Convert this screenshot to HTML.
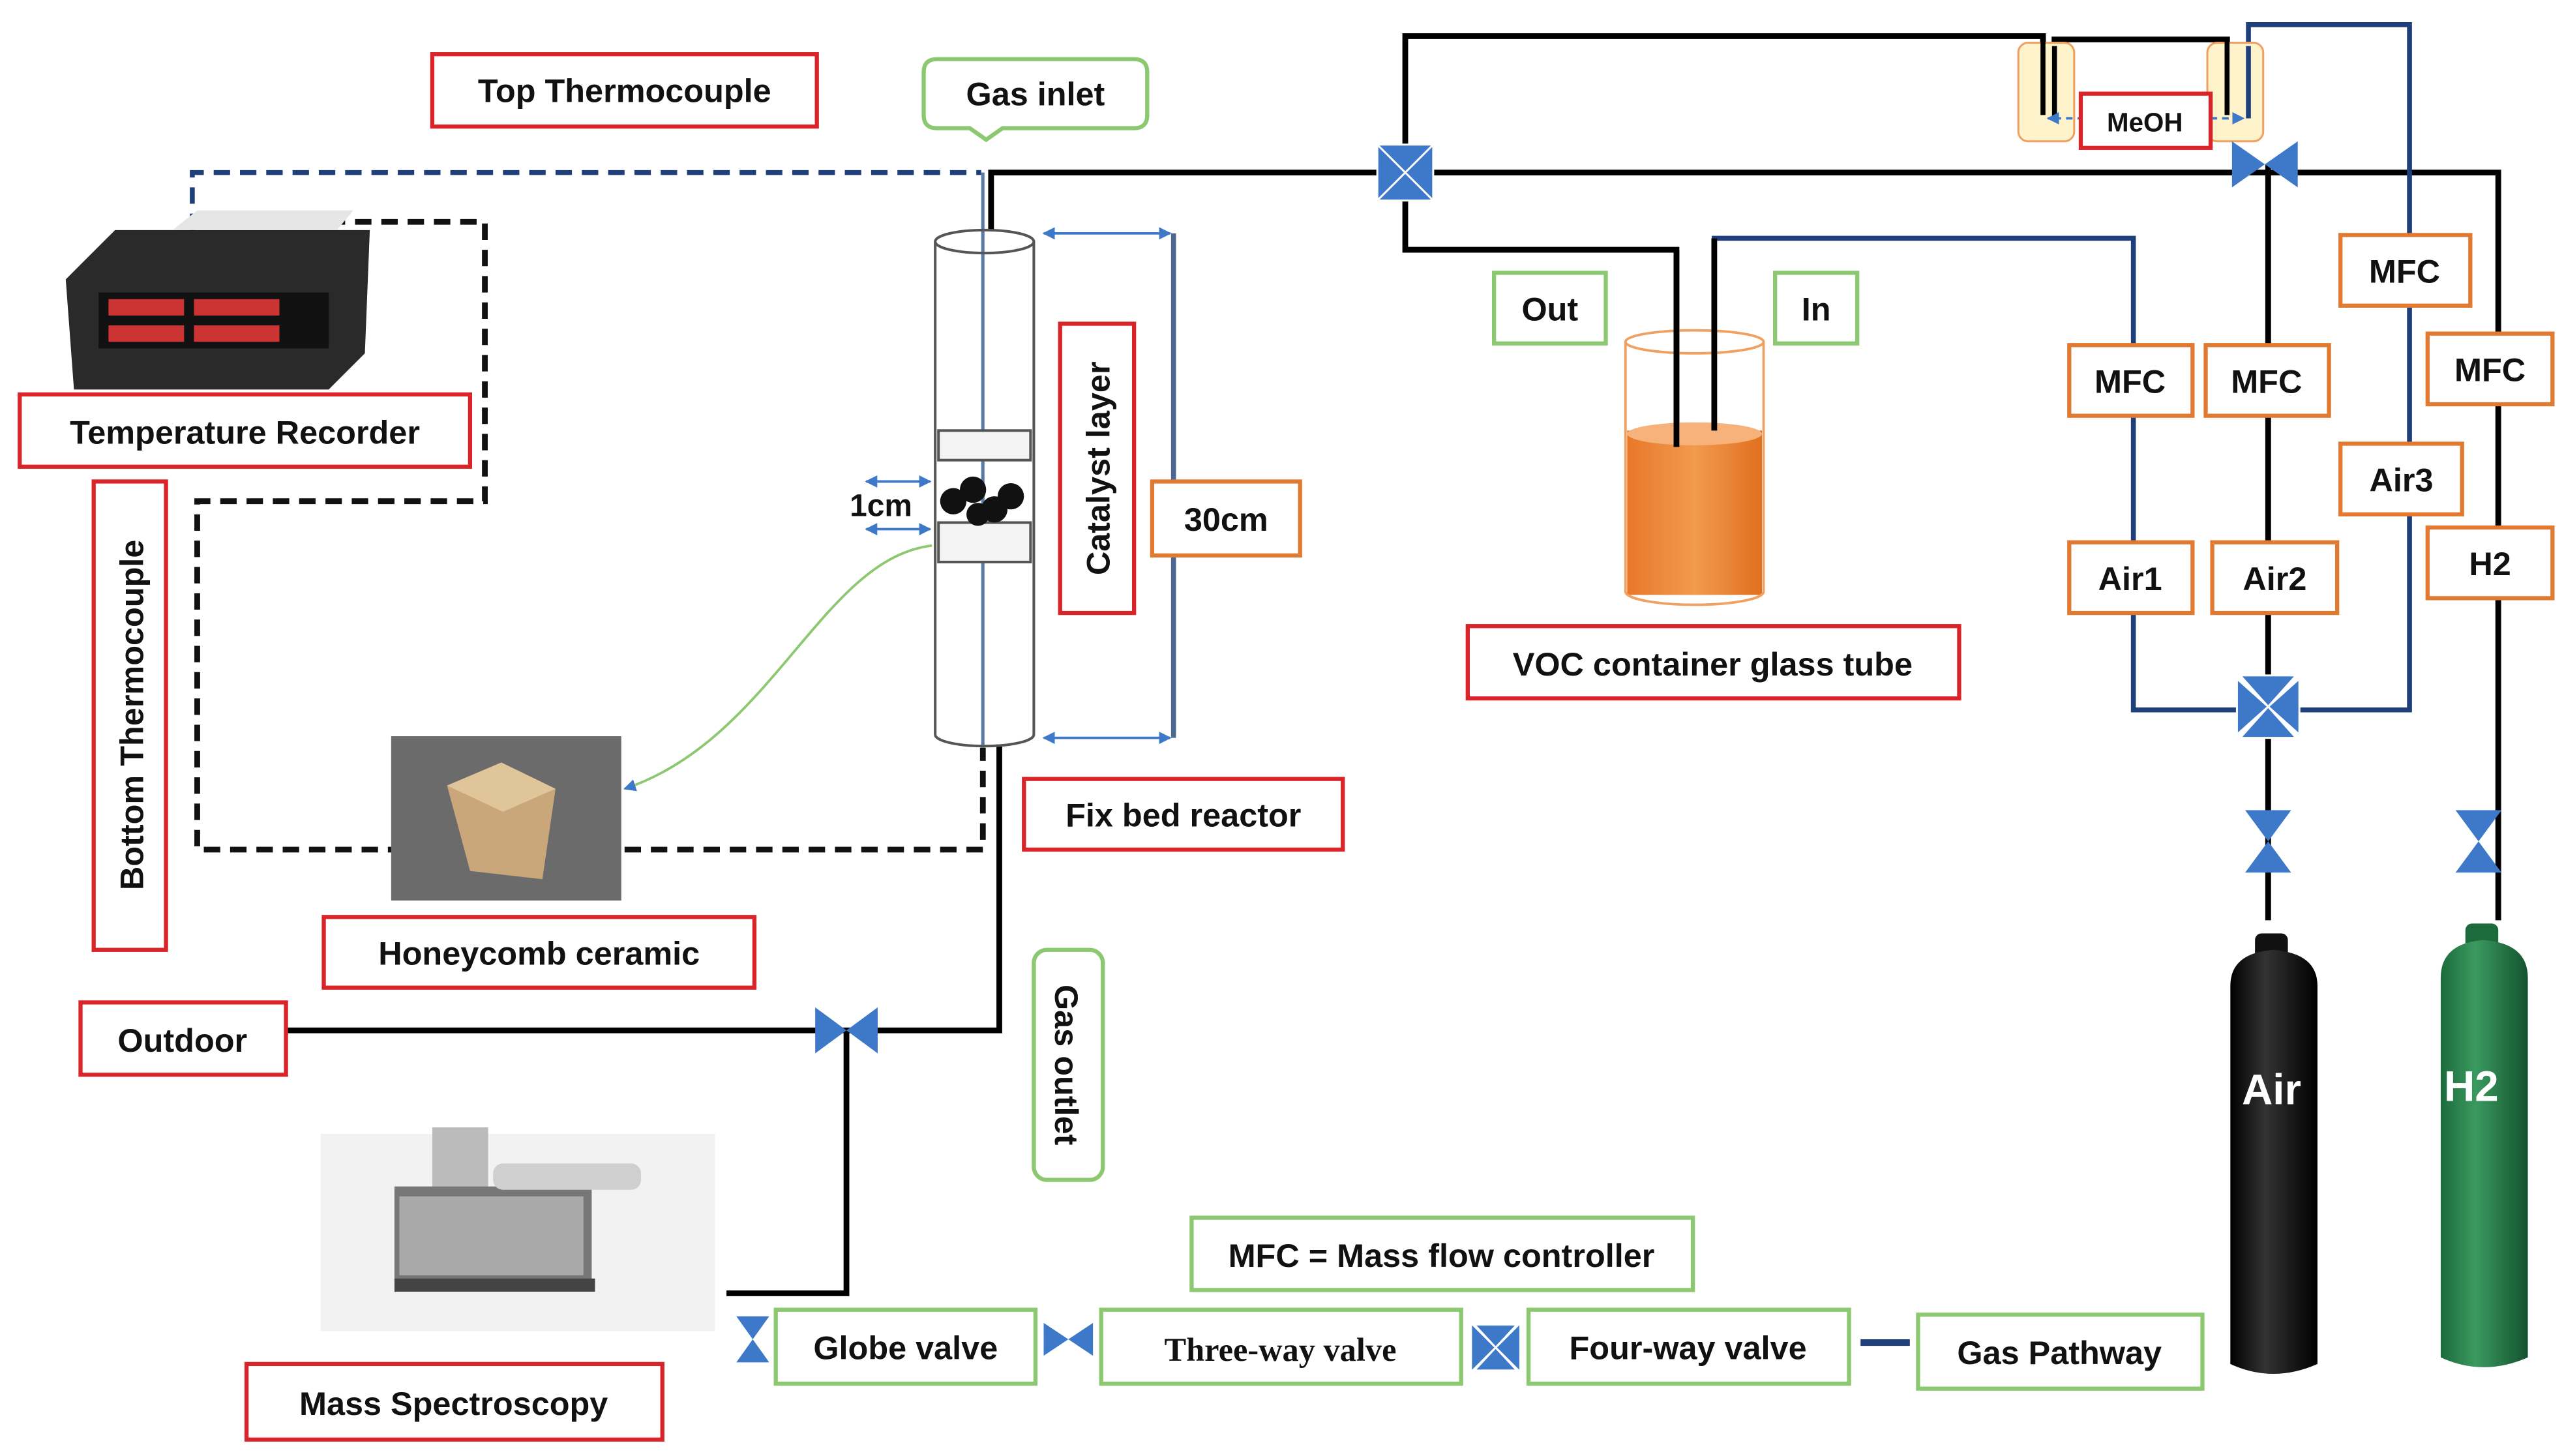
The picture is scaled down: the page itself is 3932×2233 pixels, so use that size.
<!DOCTYPE html>
<html><head><meta charset="utf-8"><style>
html,body{margin:0;padding:0;background:#fff;}
svg{display:block;}
text{font-family:"Liberation Sans",sans-serif;font-weight:bold;fill:#111;}
</style></head><body>
<svg width="3932" height="2233" viewBox="0 0 1560 886" preserveAspectRatio="none" xmlns="http://www.w3.org/2000/svg">
<defs>
<marker id="ar" viewBox="0 0 10 10" refX="9" refY="5" markerWidth="5" markerHeight="5" orient="auto-start-reverse"><path d="M0,0L10,5L0,10z" fill="#3d78c9"/></marker>
<linearGradient id="h2g" x1="0" x2="1"><stop offset="0" stop-color="#1d6b3c"/><stop offset="0.4" stop-color="#3a9a5e"/><stop offset="1" stop-color="#145230"/></linearGradient>
<linearGradient id="airg" x1="0" x2="1"><stop offset="0" stop-color="#000"/><stop offset="0.4" stop-color="#333"/><stop offset="1" stop-color="#000"/></linearGradient>
<linearGradient id="voc" x1="0" x2="1"><stop offset="0" stop-color="#e8782a"/><stop offset="0.5" stop-color="#f29a4f"/><stop offset="1" stop-color="#e0701f"/></linearGradient>
</defs>

<path d="M117,140 V105 H597" fill="none" stroke="#1f3f7a" stroke-width="3" stroke-dasharray="10,6"/>
<path d="M200,135 H295 V305 H120 V517 H598 V455" fill="none" stroke="#111" stroke-width="3.5" stroke-dasharray="10,6"/>

<g fill="none" stroke="#000" stroke-width="3.5">
<path d="M603,140 V105 H1520 V560"/>
<path d="M855,105 V22 H1243 V72"/>
<path d="M1250,72 V24 H1355 V72"/>
<path d="M855,105 V152 H1020 V272"/>
<path d="M1380,100 V560"/>
<path d="M608,453 V627 H174"/>
<path d="M515,627 V787 H442"/>
<path d="M1132,817 H1162" stroke="#1f3f7a" stroke-width="4"/>
</g>
<g fill="none" stroke="#1f3f7a" stroke-width="3">
<path d="M1043,272 V145 H1298 V432 H1466 V15 H1368 V72"/>
<path d="M598,105 V455" stroke="#5a7aa8" stroke-width="2"/>
<path d="M714,142 V449" stroke="#4b6890"/>
</g>

<g fill="none" stroke="#555" stroke-width="1.6">
<path d="M569,147 V447 A30,7 0 0,0 629,447 V147"/>
<ellipse cx="599" cy="147" rx="30" ry="7"/>
<rect x="571" y="262" width="56" height="18" fill="#f4f4f4"/>
<rect x="571" y="318" width="56" height="24" fill="#f4f4f4"/>
</g>
<g fill="#111"><circle cx="580" cy="305" r="8"/><circle cx="592" cy="298" r="8"/><circle cx="605" cy="310" r="8"/><circle cx="615" cy="302" r="8"/><circle cx="595" cy="313" r="7"/></g>
<g stroke="#3d78c9" stroke-width="1.5" marker-start="url(#ar)" marker-end="url(#ar)">
<line x1="635" y1="142" x2="712" y2="142"/><line x1="635" y1="449" x2="712" y2="449"/>
<line x1="527" y1="293" x2="566" y2="293"/><line x1="527" y1="322" x2="566" y2="322"/>
</g>
<text x="517" y="314" font-size="19">1cm</text>
<path d="M567,332 C500,340 470,450 380,480" fill="none" stroke="#8cc870" stroke-width="1.5" marker-end="url(#ar)"/>

<rect x="990" y="262" width="82" height="100" fill="url(#voc)"/>
<ellipse cx="1031" cy="264" rx="41" ry="7" fill="#f6b27a"/>
<path d="M989,208 V360 A42,8 0 0,0 1073,360 V208" fill="none" stroke="#f0a060" stroke-width="1.5"/>
<ellipse cx="1031" cy="208" rx="42" ry="7" fill="none" stroke="#f0a060" stroke-width="1.5"/>
<path d="M1020,152 V272 M1043,145 V262" stroke="#000" stroke-width="3.5"/>

<g fill="#fff3cc" stroke="#f0a060" stroke-width="1.2">
<rect x="1228" y="26" width="34" height="60" rx="6"/>
<rect x="1343" y="26" width="34" height="60" rx="6"/>
</g>
<path d="M1243,22 V70 M1250,28 V72 M1355,24 V70" stroke="#000" stroke-width="3"/>
<path d="M1368,28 V72" stroke="#1f3f7a" stroke-width="3"/>
<g stroke="#3d78c9" stroke-width="1.5" stroke-dasharray="4,3" marker-end="url(#ar)">
<line x1="1268" y1="72" x2="1246" y2="72"/><line x1="1345" y1="72" x2="1365" y2="72"/>
</g>

<g fill="#3d78c9">
<g stroke="#fff" stroke-width="1.2">
<path d="M838,88 L855,105 L838,122Z M872,88 L855,105 L872,122Z M838,88 L855,105 L872,88Z M838,122 L855,105 L872,122Z"/>
<path d="M1361,413 L1380,430 L1361,447Z M1399,413 L1380,430 L1399,447Z M1363,411 L1380,430 L1397,411Z M1363,449 L1380,430 L1397,449Z"/>
<path d="M895,805 L910,820 L895,835Z M925,805 L910,820 L925,835Z M897,806 L910,820 L923,806Z M897,834 L910,820 L923,834Z"/>
</g>
<path d="M1358,86 L1378,100 L1358,114Z M1398,86 L1378,100 L1398,114Z"/>
<path d="M496,613 L515,627 L496,641Z M534,613 L515,627 L534,641Z"/>
<path d="M1366,493 L1380,512 L1394,493Z M1366,531 L1380,512 L1394,531Z"/>
<path d="M1494,493 L1508,512 L1522,493Z M1494,531 L1508,512 L1522,531Z"/>
<path d="M448,801 L458,815 L468,801Z M448,829 L458,815 L468,829Z"/>
<path d="M635,805 L650,815 L635,825Z M665,805 L650,815 L665,825Z"/>
</g>

<rect x="1372" y="568" width="20" height="16" rx="4" fill="#111"/>
<path d="M1357,600 Q1357,580 1383,578 Q1410,580 1410,600 V830 Q1383,842 1357,830Z" fill="url(#airg)"/>
<text x="1364" y="672" font-size="26" style="fill:#fff">Air</text>
<rect x="1500" y="562" width="20" height="16" rx="4" fill="#1d6b3c"/>
<path d="M1485,595 Q1485,574 1511,572 Q1538,574 1538,595 V826 Q1511,838 1485,826Z" fill="url(#h2g)"/>
<text x="1487" y="670" font-size="26" style="fill:#fff">H2</text>

<path d="M40,170 L70,140 H225 L222,215 L200,237 H45Z" fill="#2a2a2a"/>
<path d="M105,140 L120,128 H215 L205,140Z" fill="#e6e6e6"/>
<rect x="60" y="178" width="140" height="34" fill="#111"/>
<g fill="#c33"><rect x="66" y="182" width="46" height="10"/><rect x="118" y="182" width="52" height="10"/><rect x="66" y="198" width="46" height="10"/><rect x="118" y="198" width="52" height="10"/></g>

<rect x="238" y="448" width="140" height="100" fill="#6b6b6b"/>
<path d="M272,478 L305,464 L338,480 L330,535 L286,530Z" fill="#c9a77a"/>
<path d="M272,478 L305,464 L338,480 L306,494Z" fill="#e0c49a"/>

<rect x="195" y="690" width="240" height="120" fill="#f2f2f2"/>
<rect x="263" y="686" width="34" height="40" fill="#bbb"/>
<path d="M240,722 H360 V780 H240Z" fill="#777"/>
<rect x="243" y="728" width="112" height="48" fill="#a9a9a9"/>
<rect x="300" y="708" width="90" height="16" rx="6" fill="#cfcfcf"/>
<rect x="240" y="778" width="122" height="8" fill="#444"/>

<g fill="#fff" stroke-width="2.5">
<rect x="263" y="33" width="234" height="44" stroke="#d9252a"/>
<rect x="12" y="240" width="274" height="44" stroke="#d9252a"/>
<rect x="57" y="293" width="44" height="285" stroke="#d9252a"/>
<rect x="645" y="197" width="45" height="176" stroke="#d9252a"/>
<rect x="623" y="474" width="194" height="43" stroke="#d9252a"/>
<rect x="197" y="558" width="262" height="43" stroke="#d9252a"/>
<rect x="49" y="610" width="125" height="44" stroke="#d9252a"/>
<rect x="150" y="830" width="253" height="46" stroke="#d9252a"/>
<rect x="893" y="381" width="299" height="44" stroke="#d9252a"/>
<rect x="1266" y="57" width="79" height="33" stroke="#d9252a"/>
<g stroke="#e07a30">
<rect x="701" y="293" width="90" height="45"/>
<rect x="1259" y="210" width="75" height="43"/>
<rect x="1342" y="210" width="75" height="43"/>
<rect x="1424" y="143" width="79" height="43"/>
<rect x="1477" y="203" width="76" height="43"/>
<rect x="1259" y="330" width="75" height="43"/>
<rect x="1346" y="330" width="76" height="43"/>
<rect x="1424" y="270" width="74" height="43"/>
<rect x="1477" y="321" width="76" height="43"/>
</g>
<g stroke="#8cc870">
<path d="M570,36 H690 Q698,36 698,44 V70 Q698,78 690,78 H610 L600,85 L590,78 H570 Q562,78 562,70 V44 Q562,36 570,36Z"/>
<rect x="629" y="578" width="42" height="140" rx="8"/>
<rect x="725" y="741" width="305" height="44"/>
<rect x="472" y="797" width="158" height="45"/>
<rect x="670" y="797" width="219" height="45"/>
<rect x="930" y="797" width="195" height="45"/>
<rect x="1167" y="800" width="173" height="45"/>
<rect x="909" y="166" width="68" height="43"/>
<rect x="1080" y="166" width="50" height="43"/>
</g>
</g>

<g font-size="20" text-anchor="middle">
<text x="380" y="62">Top Thermocouple</text>
<text x="630" y="64">Gas inlet</text>
<text x="149" y="270">Temperature Recorder</text>
<text transform="translate(87,435) rotate(-90)">Bottom Thermocouple</text>
<text transform="translate(675,285) rotate(-90)">Catalyst layer</text>
<text x="746" y="323">30cm</text>
<text x="720" y="503">Fix bed reactor</text>
<text x="328" y="587">Honeycomb ceramic</text>
<text x="111" y="640">Outdoor</text>
<text transform="translate(642,648) rotate(90)">Gas outlet</text>
<text x="276" y="861">Mass Spectroscopy</text>
<text x="1042" y="411">VOC container glass tube</text>
<text x="1305" y="80" font-size="16">MeOH</text>
<text x="943" y="195">Out</text>
<text x="1105" y="195">In</text>
<text x="1296" y="239">MFC</text>
<text x="1379" y="239">MFC</text>
<text x="1463" y="172">MFC</text>
<text x="1515" y="232">MFC</text>
<text x="1296" y="359">Air1</text>
<text x="1384" y="359">Air2</text>
<text x="1461" y="299">Air3</text>
<text x="1515" y="350">H2</text>
<text x="877" y="771">MFC = Mass flow controller</text>
<text x="551" y="827">Globe valve</text>
<text x="779" y="828" style="font-family:'Liberation Serif',serif">Three-way  valve</text>
<text x="1027" y="827">Four-way valve</text>
<text x="1253" y="830">Gas Pathway</text>
</g>
</svg>
</body></html>
